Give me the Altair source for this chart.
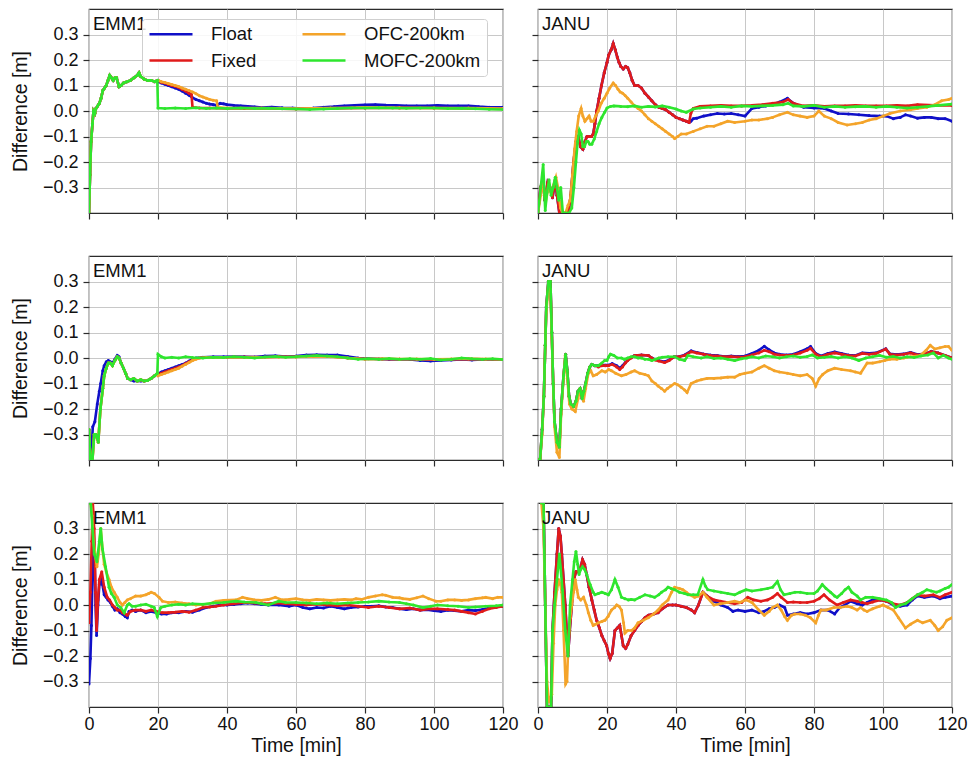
import altair as alt
import pandas as pd

FONT = "Liberation Sans"
SERIES = ["Float", "Fixed", "OFC-200km", "MOFC-200km"]
SERIES_COLORS = ["#1010c8", "#e01b1b", "#f4a42a", "#2ee62e"]
X_TICKS = [0, 20, 40, 60, 80, 100, 120]
Y_TICKS = [-0.3, -0.2, -0.1, 0.0, 0.1, 0.2, 0.3]

# ---------------- Row 1, EMM1 ----------------
E1_EARLY = [(0, -0.40), (0.3, -0.25), (0.6, -0.12), (1.0, -0.05), (1.3, 0.0), (1.7, -0.01), (2.0, 0.01),
            (2.5, 0.02), (3.0, 0.03), (3.5, 0.05), (4.0, 0.08), (4.5, 0.09), (5.0, 0.10), (5.5, 0.12),
            (6.0, 0.14), (6.5, 0.13), (7.0, 0.12), (7.5, 0.13), (8.0, 0.13), (8.7, 0.095), (9.3, 0.10),
            (10, 0.11), (11, 0.115), (12, 0.12), (13, 0.13), (14, 0.14), (14.5, 0.15), (15, 0.135),
            (16, 0.125), (17, 0.12), (18, 0.12), (19, 0.115), (19.8, 0.12)]
E1_FLOAT_TAIL = [(20, 0.115), (21, 0.11), (22, 0.105), (23, 0.10), (24, 0.095), (25, 0.09), (26, 0.085),
                 (27, 0.078), (28, 0.07), (29, 0.062), (30, 0.052), (31, 0.045), (32, 0.04), (33, 0.035),
                 (34, 0.03), (35, 0.027), (36, 0.025), (37, 0.022), (38, 0.03), (39, 0.028), (40, 0.025),
                 (42, 0.022), (44, 0.02), (46, 0.018), (48, 0.016), (50, 0.014), (53, 0.015), (56, 0.013),
                 (59, 0.012), (62, 0.01), (65, 0.012), (68, 0.015), (71, 0.017), (74, 0.02), (77, 0.022),
                 (80, 0.024), (83, 0.025), (86, 0.023), (89, 0.022), (92, 0.02), (95, 0.02), (98, 0.02),
                 (101, 0.022), (104, 0.02), (107, 0.02), (110, 0.02), (113, 0.017), (116, 0.015), (120, 0.015)]
E1_FIXED_TAIL = [(20, 0.12), (21, 0.113), (22, 0.11), (23, 0.105), (24, 0.10), (25, 0.097), (26, 0.092),
                 (27, 0.085), (28, 0.078), (29, 0.07), (29.7, 0.065), (30, 0.015), (32, 0.012), (35, 0.012),
                 (40, 0.01), (45, 0.01), (50, 0.01), (60, 0.008), (70, 0.01), (80, 0.012), (90, 0.012),
                 (100, 0.012), (110, 0.01), (120, 0.008)]
E1_OFC_TAIL = [(20, 0.12), (21, 0.115), (22, 0.112), (23, 0.108), (24, 0.104), (25, 0.10), (26, 0.096),
               (27, 0.09), (28, 0.085), (29, 0.08), (30, 0.075), (31, 0.068), (32, 0.06), (33, 0.055),
               (34, 0.05), (35, 0.045), (36, 0.042), (37, 0.04), (37.3, 0.015), (40, 0.012), (50, 0.012),
               (60, 0.01), (70, 0.012), (80, 0.014), (90, 0.013), (100, 0.012), (110, 0.012), (120, 0.01)]
E1_MOFC_TAIL = [(20, 0.012), (22, 0.01), (25, 0.012), (28, 0.01), (31, 0.013), (34, 0.01), (37, 0.012),
                (40, 0.01), (44, 0.012), (48, 0.01), (52, 0.011), (56, 0.009), (60, 0.008), (64, 0.006),
                (68, 0.008), (72, 0.01), (76, 0.012), (80, 0.012), (84, 0.013), (88, 0.012), (92, 0.011),
                (96, 0.012), (100, 0.012), (104, 0.01), (108, 0.011), (112, 0.009), (116, 0.007), (120, 0.006)]

# ---------------- Row 1, JANU ----------------
J1_FIXED_HEAD = [(0, -0.40), (0.7, -0.30), (1.4, -0.27), (2.0, -0.35), (2.8, -0.28), (3.5, -0.30), (4.2, -0.34),
                 (5.0, -0.27), (5.5, -0.33), (6.2, -0.40), (7.0, -0.40), (8.0, -0.40), (8.8, -0.40), (9.5, -0.33),
                 (10.3, -0.20), (11.0, -0.12), (11.7, -0.10), (12.3, -0.14), (13.0, -0.15), (13.6, -0.12),
                 (14.2, -0.10), (14.8, -0.10), (15.5, -0.10), (16.0, -0.09), (16.5, -0.05), (17.0, 0.0),
                 (17.7, 0.05), (18.4, 0.10), (19.2, 0.15), (20.0, 0.19), (20.5, 0.22), (21.2, 0.24),
                 (21.8, 0.265), (22.4, 0.24), (23.0, 0.21), (23.5, 0.19), (24.0, 0.175), (24.7, 0.165),
                 (25.4, 0.175), (26.0, 0.17), (26.6, 0.15), (27.3, 0.12), (28, 0.10), (29, 0.10), (30, 0.09),
                 (31, 0.07), (32, 0.055), (33, 0.04), (34, 0.025), (35, 0.015), (36, 0.01), (37, 0.005),
                 (38, -0.005), (39, -0.015), (40, -0.025), (41, -0.03), (42, -0.035), (43, -0.04), (43.8, -0.045)]
J1_FIXED_TAIL = [(44.3, -0.01), (45, 0.01), (47, 0.018), (50, 0.02), (53, 0.022), (56, 0.02), (59, 0.02),
                 (62, 0.022), (65, 0.025), (68, 0.03), (71, 0.035), (72.5, 0.045), (74, 0.03), (77, 0.02),
                 (80, 0.022), (83, 0.018), (86, 0.02), (89, 0.02), (92, 0.022), (95, 0.02), (98, 0.02),
                 (101, 0.02), (104, 0.022), (107, 0.02), (110, 0.025), (115, 0.022), (120, 0.022)]
J1_FLOAT_TAIL = [(44.3, -0.04), (45, -0.03), (46, -0.028), (48, -0.02), (50, -0.015), (52, -0.01), (54, -0.012),
                 (56, -0.01), (58, -0.015), (60, -0.02), (62, 0.01), (64, 0.015), (66, 0.02), (68, 0.025),
                 (70, 0.035), (72.3, 0.05), (73.5, 0.035), (75, 0.025), (77, 0.015), (80, 0.012), (83, 0.01),
                 (85, 0.0), (87, -0.01), (90, -0.012), (93, -0.015), (96, -0.018), (99, -0.02), (101, -0.02),
                 (103, -0.03), (105, -0.025), (106.5, -0.015), (108, -0.02), (110, -0.028), (112, -0.025),
                 (114, -0.025), (116, -0.03), (118, -0.03), (120, -0.04)]
J1_OFC = [(0, -0.40), (0.8, -0.33), (1.5, -0.28), (2.2, -0.36), (3.0, -0.30), (3.8, -0.32), (4.5, -0.29),
          (5.2, -0.26), (5.8, -0.30), (6.5, -0.38), (7.2, -0.40), (8.0, -0.40), (8.7, -0.37), (9.3, -0.35),
          (10.0, -0.25), (10.6, -0.15), (11.2, -0.08), (11.8, -0.02), (12.5, 0.01), (13.0, -0.02), (13.6, -0.04),
          (14.2, -0.03), (14.8, -0.02), (15.4, -0.04), (16.0, -0.04), (16.7, -0.02), (17.5, 0.0), (18.3, 0.03),
          (19.2, 0.05), (20.0, 0.07), (20.8, 0.09), (21.8, 0.11), (22.5, 0.10), (23.2, 0.085), (23.8, 0.075),
          (24.5, 0.07), (25.3, 0.06), (26, 0.05), (27, 0.035), (28, 0.02), (29, 0.01), (30, 0.0), (31, -0.015),
          (32, -0.03), (33, -0.04), (34, -0.05), (35, -0.06), (36, -0.07), (37, -0.08), (38, -0.09), (39, -0.10),
          (39.6, -0.108), (40.5, -0.10), (41.5, -0.09), (43, -0.09), (45, -0.08), (47, -0.07), (49, -0.06),
          (51, -0.06), (53, -0.05), (55, -0.04), (57, -0.045), (60, -0.04), (62, -0.035), (64, -0.035),
          (66.5, -0.03), (68, -0.025), (70, -0.015), (72.3, -0.005), (74, -0.015), (76, -0.02), (78, -0.025),
          (80, -0.02), (81.4, 0.0), (83, -0.02), (85, -0.03), (87, -0.045), (89.6, -0.055), (92, -0.05),
          (94, -0.045), (96, -0.035), (98, -0.03), (100, -0.02), (102, -0.01), (105, 0.0), (108, 0.005),
          (110, 0.01), (112.7, 0.015), (115, 0.025), (117, 0.04), (119, 0.045), (120, 0.05)]
J1_MOFC = [(0, -0.40), (0.8, -0.30), (1.5, -0.21), (2.1, -0.39), (2.6, -0.32), (3.2, -0.27), (3.8, -0.33),
           (4.4, -0.30), (5.0, -0.26), (5.5, -0.30), (6.0, -0.35), (6.6, -0.30), (7.2, -0.40), (8.0, -0.40),
           (9.0, -0.40), (9.8, -0.38), (10.4, -0.30), (11.0, -0.20), (11.5, -0.12), (12.0, -0.075), (12.5, -0.09),
           (13.0, -0.14), (13.5, -0.14), (14.0, -0.12), (14.5, -0.12), (15.0, -0.13), (15.6, -0.13), (16.3, -0.11),
           (17.0, -0.08), (17.7, -0.05), (18.5, -0.025), (19.3, -0.005), (20, 0.012), (21, 0.018), (22, 0.02),
           (24, 0.018), (26, 0.017), (28, 0.02), (30, 0.015), (32, 0.018), (34, 0.016), (36, 0.02), (38, 0.015),
           (40, 0.008), (41.5, 0.0), (43, -0.005), (45, 0.008), (47, 0.012), (50, 0.015), (53, 0.018), (56, 0.015),
           (59, 0.02), (62, 0.018), (65, 0.02), (68, 0.022), (71, 0.025), (72.5, 0.03), (74, 0.02), (77, 0.018),
           (80, 0.022), (83, 0.015), (86, 0.018), (89, 0.015), (92, 0.017), (95, 0.018), (98, 0.015), (101, 0.018),
           (104, 0.015), (107, 0.012), (110, 0.015), (113, 0.018), (116, 0.022), (120, 0.027)]

# ---------------- Row 2, EMM1 ----------------
E2_EARLY = [(0, -0.28), (0.4, -0.40), (1.0, -0.40), (1.5, -0.30), (2.0, -0.30), (2.7, -0.33), (3.3, -0.20),
            (4.0, -0.12), (4.4, -0.07), (5.0, -0.04), (5.6, -0.02), (6.2, -0.02), (6.8, -0.03), (7.5, -0.01),
            (8.2, 0.005), (8.7, 0.0), (9.3, -0.02), (10, -0.04), (10.6, -0.06), (11.2, -0.08), (12, -0.085),
            (13, -0.08), (14, -0.09), (15, -0.085), (16, -0.09), (17, -0.088), (18, -0.08), (19, -0.07),
            (19.8, -0.06)]
E2_FLOAT = [(0, -0.28), (0.4, -0.40), (0.8, -0.35), (1.1, -0.27), (1.7, -0.25), (2.4, -0.18), (3.0, -0.13),
            (3.4, -0.10), (4.0, -0.05), (4.4, -0.03), (5.0, -0.015), (5.6, -0.01), (6.2, -0.015), (6.8, -0.02),
            (7.5, -0.005), (8.2, 0.01), (8.7, 0.005), (9.3, -0.02), (10, -0.04), (10.6, -0.06), (11.2, -0.08),
            (12, -0.085), (13, -0.09), (14, -0.09), (15, -0.09), (16, -0.09), (17, -0.088), (18, -0.08),
            (19, -0.07), (20, -0.062), (21, -0.055), (22, -0.05), (23, -0.045), (24, -0.04), (25, -0.035),
            (26, -0.03), (27, -0.025), (28, -0.02), (29, -0.012), (30, -0.005), (31, 0.0), (33, 0.003),
            (36, 0.005), (39, 0.005), (42, 0.006), (45, 0.005), (48, 0.004), (51, 0.008), (54, 0.009),
            (57, 0.006), (60, 0.008), (63, 0.012), (66, 0.013), (69, 0.012), (72, 0.012), (75, 0.006),
            (78, 0.0), (81, -0.002), (84, -0.004), (87, -0.006), (90, -0.005), (93, -0.006), (96, -0.01),
            (99, -0.012), (102, -0.01), (105, -0.008), (108, -0.006), (111, -0.008), (114, -0.006),
            (117, -0.005), (120, -0.006)]
E2_FIXED_TAIL = [(20, -0.065), (21, -0.06), (22, -0.055), (23, -0.05), (24, -0.045), (25, -0.04), (26, -0.035),
                 (27, -0.03), (28, -0.022), (29, -0.015), (30, -0.008), (31, -0.002), (33, 0.002), (36, 0.003),
                 (40, 0.003), (45, 0.004), (50, 0.003), (55, 0.005), (60, 0.005), (65, 0.008), (70, 0.006),
                 (75, 0.0), (80, -0.004), (85, -0.004), (90, -0.005), (95, -0.005), (100, -0.006),
                 (105, -0.005), (110, -0.004), (115, -0.005), (120, -0.006)]
E2_OFC_TAIL = [(20, -0.07), (21, -0.065), (22, -0.06), (23, -0.055), (24, -0.05), (25, -0.045), (26, -0.04),
               (27, -0.032), (28, -0.025), (29, -0.018), (30, -0.01), (31, -0.005), (32, 0.0), (34, 0.002),
               (38, 0.002), (42, 0.004), (46, 0.002), (50, 0.003), (55, 0.004), (60, 0.004), (65, 0.007),
               (70, 0.005), (75, 0.0), (80, -0.004), (85, -0.003), (90, -0.004), (95, -0.004), (100, -0.005),
               (105, -0.004), (110, -0.003), (115, -0.004), (120, -0.005)]
E2_MOFC_TAIL = [(20, 0.015), (21, 0.005), (22, 0.0), (24, 0.003), (26, 0.0), (28, 0.005), (30, 0.002), (33, 0.0),
                (36, 0.003), (39, 0.002), (42, 0.005), (45, 0.003), (48, 0.0), (51, 0.004), (54, 0.006),
                (57, 0.003), (60, 0.005), (63, 0.008), (66, 0.01), (69, 0.008), (72, 0.005), (75, 0.0),
                (78, -0.005), (81, -0.003), (84, -0.005), (87, -0.002), (90, -0.005), (93, -0.003), (96, -0.005),
                (99, -0.002), (102, -0.008), (105, -0.005), (108, 0.0), (111, -0.003), (114, -0.005),
                (117, -0.003), (120, -0.006)]

# ---------------- Row 2, JANU ----------------
J2_EARLY = [(0, -0.40), (0.6, -0.40), (1.2, -0.28), (1.7, -0.15), (2.1, 0.05), (2.4, 0.20), (3.0, 0.30),
            (3.6, 0.30), (4.0, 0.10), (4.4, -0.10), (4.8, -0.25), (5.5, -0.33), (6.2, -0.35), (6.7, -0.20),
            (7.4, -0.07), (8.0, 0.015), (8.5, -0.05), (9.0, -0.15), (9.5, -0.18), (10.3, -0.19), (11.0, -0.17),
            (11.6, -0.13), (12.2, -0.12), (12.8, -0.16), (13.3, -0.13), (13.8, -0.10), (14.4, -0.06),
            (15.0, -0.035)]
J2_MOFC_TAIL = [(15.6, -0.025), (16.5, -0.03), (17.5, -0.03), (18.5, -0.02), (19.3, -0.01), (20, -0.01),
                (20.5, 0.005), (21, 0.015), (22, 0.01), (23, 0.0), (24.2, 0.0), (25, -0.005), (26, 0.0), (27, 0.005),
                (28, 0.005), (29, 0.0), (30, 0.0), (31, -0.005), (32, -0.005), (33, -0.01), (34, -0.005), (35, 0.0),
                (36, 0.003), (37.7, 0.005), (39.6, 0.005), (41, -0.005), (42.5, -0.01), (43.5, 0.01), (45, 0.005),
                (47.3, 0.0), (49, 0.005), (51, -0.002), (53, 0.0), (55, -0.005), (57, -0.01), (59, -0.003),
                (60.5, 0.0), (62, 0.005), (64, 0.0), (66, 0.008), (68, 0.005), (70, 0.0), (72, 0.005), (74, 0.008),
                (76, 0.003), (78, 0.006), (79.5, 0.012), (81, 0.0), (83, 0.003), (85, 0.006), (87, 0.0), (89, 0.005),
                (91, 0.0), (93, -0.01), (95, 0.0), (97, 0.005), (99, 0.01), (101, 0.003), (103, 0.006), (105, 0.0),
                (107, 0.005), (109, 0.002), (111, 0.008), (113, 0.012), (114.6, 0.02), (116, 0.0), (117.5, 0.01),
                (119, 0.0), (120, -0.005)]
J2_FIXED_TAIL = [(15.6, -0.025), (16.5, -0.03), (17.5, -0.035), (18.5, -0.03), (19.5, -0.03), (20.4, -0.03),
                 (21.5, -0.025), (22.8, -0.035), (23.7, -0.045), (24.5, -0.035), (25.3, -0.02), (26, -0.01),
                 (27, 0.0), (28, 0.01), (30, 0.012), (32, 0.01), (33, 0.0), (34, -0.008), (35, -0.012),
                 (36.7, -0.018), (38, -0.01), (39.5, 0.005), (41, 0.005), (42.5, 0.01), (44.4, 0.025), (46, 0.02),
                 (48, 0.015), (50, 0.01), (52, 0.008), (54, 0.005), (56, 0.006), (58, 0.004), (60, 0.005),
                 (62, 0.012), (64, 0.02), (65.6, 0.03), (67, 0.025), (68.5, 0.015), (70, 0.012), (72, 0.01),
                 (74, 0.012), (76, 0.02), (78, 0.03), (79, 0.038), (80.5, 0.015), (82, 0.005), (84, 0.015),
                 (86, 0.02), (88, 0.015), (90, 0.01), (92, 0.008), (94, 0.018), (96, 0.015), (98, 0.018),
                 (100.8, 0.035), (102, 0.015), (104, 0.012), (106, 0.015), (108, 0.02), (110, 0.012), (112, 0.015),
                 (114, 0.025), (116, 0.02), (118, 0.01), (120, 0.0)]
J2_FLOAT_TAIL = [(15.6, -0.025), (16.5, -0.03), (17.5, -0.03), (18.5, -0.028), (19.5, -0.028), (20.4, -0.028),
                 (21.5, -0.022), (22.8, -0.03), (23.7, -0.04), (24.5, -0.03), (25.3, -0.018), (26, -0.008),
                 (27, 0.002), (28, 0.01), (30, 0.012), (32, 0.01), (33, 0.0), (34, -0.006), (35, -0.01),
                 (36.7, -0.015), (38, -0.008), (39.5, 0.005), (41, 0.006), (42.5, 0.012), (44.4, 0.028), (46, 0.022),
                 (48, 0.016), (50, 0.012), (52, 0.01), (54, 0.006), (56, 0.008), (58, 0.006), (60, 0.008),
                 (62, 0.018), (64, 0.03), (65.6, 0.046), (67, 0.032), (68.5, 0.02), (70, 0.015), (72, 0.012),
                 (74, 0.015), (76, 0.025), (78, 0.036), (79, 0.045), (80.5, 0.018), (82, 0.008), (84, 0.018),
                 (86, 0.024), (88, 0.018), (90, 0.012), (92, 0.01), (94, 0.02), (96, 0.018), (98, 0.02),
                 (100.8, 0.036), (102, 0.016), (104, 0.014), (106, 0.016), (108, 0.022), (110, 0.014), (112, 0.016),
                 (114, 0.026), (116, 0.02), (118, 0.01), (120, 0.0)]
J2_OFC = [(0, -0.40), (0.6, -0.40), (1.2, -0.30), (1.7, -0.15), (2.1, 0.05), (2.4, 0.18), (3.0, 0.28),
          (3.6, 0.27), (4.0, 0.08), (4.4, -0.10), (4.8, -0.27), (5.5, -0.37), (6.2, -0.39), (6.7, -0.22),
          (7.4, -0.08), (7.9, 0.01), (8.5, -0.08), (9.1, -0.18), (9.8, -0.20), (10.8, -0.21), (11.6, -0.16),
          (12.2, -0.12), (12.8, -0.15), (13.2, -0.17), (13.8, -0.12), (14.6, -0.06), (15.3, -0.05), (16, -0.07),
          (17, -0.065), (18.5, -0.05), (19.5, -0.055), (20.5, -0.045), (21.3, -0.05), (22.5, -0.06), (24.2, -0.07),
          (25.5, -0.065), (27, -0.055), (28, -0.05), (29.5, -0.06), (31, -0.065), (32, -0.07), (33, -0.09),
          (34, -0.10), (34.8, -0.11), (35.8, -0.12), (36.7, -0.13), (37.5, -0.12), (38.5, -0.11), (39.6, -0.10),
          (40.5, -0.105), (41.5, -0.115), (42.5, -0.125), (43.2, -0.135), (44.4, -0.10), (46, -0.09),
          (47.3, -0.085), (49, -0.08), (51, -0.08), (53, -0.078), (55, -0.075), (57, -0.075), (58.5, -0.065),
          (60, -0.06), (62, -0.055), (64, -0.04), (65.6, -0.03), (67, -0.04), (68.5, -0.05), (70, -0.055),
          (72.3, -0.06), (74, -0.065), (76, -0.07), (78, -0.065), (79.5, -0.08), (80.5, -0.11), (81.5, -0.08),
          (82.5, -0.065), (84, -0.05), (86, -0.04), (88, -0.045), (90.6, -0.05), (92, -0.055), (93.5, -0.06),
          (95.4, -0.02), (97, -0.02), (99, -0.015), (100.5, -0.01), (102, -0.005), (104, -0.005), (106, 0.0),
          (108, 0.005), (110.8, 0.01), (112.5, 0.03), (113.7, 0.05), (115, 0.035), (116.5, 0.04), (118, 0.045),
          (119, 0.045), (120, 0.03)]

# ---------------- Row 3, EMM1 ----------------
E3_FLOAT = [(0, -0.31), (0.4, -0.21), (0.7, -0.08), (1.0, 0.10), (1.3, 0.30), (1.6, 0.20), (1.9, 0.0),
            (2.2, -0.12), (2.6, 0.0), (3.0, 0.08), (3.5, 0.10), (3.9, 0.08), (4.4, 0.04), (5.0, 0.03),
            (5.5, 0.02), (6.2, 0.01), (6.8, -0.005), (7.5, -0.02), (8.2, -0.015), (9.0, -0.03), (9.7, -0.035),
            (10.5, -0.045), (11.1, -0.05), (11.6, -0.025), (12.5, -0.02), (13.5, -0.025), (15, -0.02),
            (16.5, -0.03), (18, -0.025), (19.5, -0.03), (21, -0.035), (22.5, -0.035), (24, -0.03), (26, -0.03),
            (28, -0.025), (30, -0.028), (32, -0.02), (34, -0.01), (36, -0.005), (38, 0.0), (40, 0.0),
            (42, 0.002), (44, 0.005), (46, 0.008), (48, 0.005), (50, 0.002), (52, 0.0), (55, 0.0), (58, -0.005),
            (60, 0.0), (62, -0.01), (64, -0.015), (66, -0.01), (68, -0.012), (70, -0.005), (72, -0.01),
            (74, -0.015), (76, -0.01), (78, -0.008), (80, -0.005), (82, -0.005), (84, -0.003), (86, -0.008),
            (88, -0.01), (90, -0.015), (92, -0.018), (94, -0.015), (96, -0.02), (98, -0.018), (100, -0.022),
            (102, -0.025), (104, -0.02), (106, -0.022), (108, -0.025), (110, -0.02), (112, -0.022),
            (114, -0.018), (116, -0.012), (118, -0.008), (120, -0.005)]
E3_FIXED = [(0, -0.07), (0.4, 0.05), (0.8, 0.25), (1.1, 0.40), (1.5, 0.30), (1.9, 0.05), (2.2, -0.10),
            (2.6, 0.02), (3.0, 0.10), (3.7, 0.13), (4.4, 0.07), (5.3, 0.03), (6.0, 0.02), (6.8, 0.0),
            (7.5, -0.01), (8.2, -0.02), (9.0, -0.02), (9.7, -0.03), (10.5, -0.035), (11.1, -0.04), (12, -0.025),
            (13.5, -0.02), (15, -0.02), (16.5, -0.025), (18, -0.02), (19.5, -0.025), (21.3, -0.03), (23, -0.03),
            (25, -0.028), (27, -0.025), (29, -0.028), (31, -0.02), (33, -0.01), (35, -0.008), (36.8, -0.005),
            (39, 0.0), (42, 0.005), (45, 0.01), (48, 0.008), (51, 0.005), (54, 0.008), (57, 0.005), (60, 0.002),
            (63, 0.0), (66, 0.003), (69, 0.0), (72, -0.003), (75, 0.0), (78, -0.005), (81, -0.01), (84, -0.005),
            (87, -0.01), (90, -0.015), (93, -0.012), (96, -0.02), (99, -0.015), (101, -0.015), (104, -0.018),
            (106, -0.02), (108, -0.025), (110, -0.03), (112, -0.035), (114, -0.025), (116, -0.015),
            (118, -0.01), (120, -0.005)]
E3_OFC = [(0, 0.40), (0.5, 0.40), (0.9, 0.35), (1.3, 0.25), (1.8, 0.20), (2.3, 0.15), (2.8, 0.20), (3.4, 0.30),
          (3.9, 0.22), (4.4, 0.16), (5.0, 0.13), (5.8, 0.10), (6.5, 0.07), (7.3, 0.05), (8.2, 0.03), (9.0, 0.01),
          (9.7, 0.0), (10.4, 0.01), (11.1, 0.02), (12, 0.025), (13.5, 0.035), (15, 0.035), (16.5, 0.04),
          (17.3, 0.045), (18, 0.05), (19, 0.045), (20.3, 0.03), (21.3, 0.015), (23, 0.01), (25, 0.012),
          (27, 0.008), (29, 0.005), (31, 0.0), (33, 0.002), (35, 0.005), (36.8, 0.015), (39, 0.018),
          (42.6, 0.02), (44.5, 0.03), (46, 0.025), (48, 0.02), (50, 0.018), (52, 0.022), (54, 0.03), (56, 0.02),
          (58, 0.022), (60, 0.025), (62, 0.02), (64, 0.018), (66, 0.022), (68, 0.02), (70, 0.018), (72, 0.02),
          (74, 0.022), (76, 0.02), (77.4, 0.025), (79, 0.022), (81, 0.03), (83, 0.035), (85, 0.04),
          (86, 0.038), (88, 0.03), (90, 0.028), (91, 0.025), (93, 0.022), (95, 0.028), (96.8, 0.035),
          (98.5, 0.025), (100.6, 0.015), (102, 0.015), (104, 0.02), (106, 0.02), (108, 0.018), (110, 0.02),
          (112, 0.025), (114, 0.028), (115, 0.03), (117, 0.025), (118.5, 0.03), (120, 0.03)]
E3_MOFC = [(0, 0.40), (0.5, 0.40), (1.0, 0.30), (1.5, 0.20), (2.3, 0.17), (3.0, 0.25), (3.4, 0.30), (3.9, 0.22),
           (4.8, 0.15), (5.8, 0.07), (6.5, 0.045), (7.3, 0.03), (8.2, 0.0), (9.2, -0.01), (10.2, -0.03),
           (11.1, 0.0), (11.6, 0.005), (12.5, -0.005), (13.5, -0.005), (15, 0.0), (16.5, 0.003), (18, -0.005),
           (18.9, -0.01), (19.8, -0.045), (20.8, -0.01), (22, -0.005), (24, 0.0), (26, 0.003), (28, 0.0),
           (30, 0.005), (33, 0.003), (36, 0.008), (39, 0.01), (42.6, 0.015), (45, 0.012), (48.4, 0.01),
           (50, 0.005), (52, 0.0), (55, 0.015), (57, 0.01), (60, 0.01), (63, 0.008), (66, 0.005), (69, 0.008),
           (72, 0.005), (75, 0.008), (78, 0.01), (81, 0.012), (84, 0.015), (87, 0.012), (90, 0.01), (92, 0.005),
           (94, 0.0), (96.8, -0.01), (99, -0.005), (101, 0.0), (104, -0.003), (107, -0.005), (110, -0.01),
           (112, -0.008), (115, -0.005), (118, -0.003), (120, 0.0)]

# ---------------- Row 3, JANU ----------------
J3_EARLY = [(1.0, 0.40), (1.6, 0.40), (2.1, 0.0), (2.6, -0.40), (3.2, -0.40), (3.8, -0.40), (4.2, -0.10)]
J3_MOFC_TAIL = [(4.8, 0.0), (5.5, 0.10), (6.2, 0.20), (7.1, 0.06), (7.9, -0.10), (8.7, -0.20), (9.3, 0.0),
                (10, 0.10), (10.5, 0.17), (11, 0.21), (11.5, 0.16), (11.9, 0.12), (12.4, 0.14), (12.9, 0.15),
                (13.5, 0.14), (14.1, 0.12), (15.1, 0.08), (16, 0.05), (16.5, 0.04), (17.5, 0.045), (18.5, 0.05),
                (19.5, 0.045), (20.4, 0.04), (21.3, 0.06), (22.3, 0.10), (23.2, 0.07), (24.2, 0.03), (25.2, 0.025),
                (26.2, 0.02), (27, 0.022), (28, 0.02), (29.5, 0.03), (31, 0.04), (32.5, 0.035), (33.8, 0.03),
                (35, 0.04), (35.8, 0.05), (37, 0.06), (37.7, 0.07), (38.6, 0.065), (39.6, 0.06), (41, 0.05),
                (42.5, 0.045), (43.5, 0.04), (45, 0.04), (46.3, 0.04), (47.8, 0.10), (48.5, 0.075), (49.2, 0.06),
                (51, 0.055), (53, 0.05), (55, 0.045), (57, 0.04), (58.5, 0.05), (60.3, 0.06), (62, 0.055),
                (64.6, 0.06), (66.5, 0.065), (68, 0.07), (69.4, 0.092), (70.3, 0.06), (71.3, 0.04), (73, 0.045),
                (74.5, 0.05), (76, 0.05), (78, 0.045), (80, 0.045), (81, 0.055), (82.4, 0.08), (83.5, 0.065),
                (84.8, 0.05), (86, 0.035), (86.7, 0.03), (88, 0.045), (89, 0.06), (90, 0.07), (91, 0.05),
                (92.5, 0.035), (93.5, 0.02), (95, 0.03), (97, 0.03), (99, 0.025), (101, 0.02), (102.5, 0.01),
                (103.6, -0.01), (105, 0.0), (106.5, 0.005), (108, 0.02), (110, 0.04), (111.5, 0.05), (112.7, 0.06),
                (114, 0.055), (115.5, 0.05), (116.5, 0.055), (118, 0.065), (119, 0.07), (120, 0.08)]
J3_FIXED_MID = [(4.8, 0.05), (5.5, 0.20), (6.0, 0.30), (6.5, 0.27), (6.9, 0.20), (7.4, 0.10), (7.9, 0.0),
                (8.3, -0.10), (8.7, -0.20), (9.2, -0.10), (9.8, 0.0), (10.4, 0.10), (11, 0.13), (11.6, 0.13),
                (12.2, 0.14), (12.9, 0.178), (13.5, 0.16), (14.1, 0.12), (14.8, 0.07), (15.6, 0.02), (16.3, -0.02),
                (17, -0.06), (17.8, -0.09), (18.5, -0.12), (19.2, -0.14), (19.9, -0.16), (20.4, -0.19),
                (20.9, -0.21), (21.5, -0.19), (22.3, -0.10), (23, -0.09), (23.7, -0.08), (24.2, -0.12),
                (24.7, -0.16), (25.4, -0.17), (26, -0.155), (27, -0.12), (28, -0.10), (29, -0.08), (30, -0.065),
                (31, -0.05), (32, -0.04), (33.5, -0.035), (34.8, -0.03), (36, -0.015), (37.7, 0.0), (39, 0.0),
                (40, 0.0), (41.5, -0.005), (43, -0.01), (44.5, -0.02), (45.4, -0.03), (46.5, 0.0), (47.8, 0.05),
                (49, 0.035)]
J3_FIXED_TAIL = [(51, 0.02), (53, 0.015), (55, 0.01), (57, 0.005), (59, 0.01), (60.8, 0.03), (62.5, 0.02),
                 (64.6, 0.015), (66.5, 0.02), (68, 0.03), (69.4, 0.045), (70.5, 0.03), (72.3, 0.01), (74, 0.012),
                 (76, 0.01), (78, 0.01), (80, 0.015), (81.5, 0.025), (82.9, 0.04), (84.5, 0.02), (86.7, 0.0),
                 (88.5, 0.01), (90.6, 0.02), (92.5, 0.015), (94, 0.01), (95.4, 0.005), (97, 0.012), (99.2, 0.02),
                 (101, 0.015), (103, 0.005), (105, 0.0), (107, 0.01), (108.5, 0.025), (110, 0.04), (112, 0.035),
                 (114.6, 0.04), (116.5, 0.03), (118, 0.04), (120, 0.05)]
J3_FLOAT_TAIL = [(51, 0.015), (53, 0.0), (55, -0.01), (56.5, -0.025), (58, -0.02), (60, -0.025), (62, -0.02),
                 (64, -0.03), (65.5, -0.025), (67, -0.015), (68.5, -0.01), (70, 0.0), (71.5, -0.01), (72.3, -0.04),
                 (74, -0.035), (76, -0.03), (78, -0.035), (80, -0.03), (82, -0.02), (84, -0.02), (86, -0.035),
                 (87.5, -0.01), (89, 0.0), (90.6, 0.015), (92.5, 0.005), (94, 0.0), (95.4, 0.01), (97, 0.02),
                 (99.2, 0.02), (101, 0.015), (103, 0.0), (105, -0.005), (107, 0.0), (108.5, 0.02), (110, 0.035),
                 (112, 0.03), (114.6, 0.035), (116.5, 0.025), (118, 0.03), (120, 0.035)]
J3_OFC = [(1.0, 0.40), (1.6, 0.30), (2.1, 0.0), (2.6, -0.30), (3.2, -0.38), (4.0, -0.35), (4.5, -0.15), (5.0, 0.0),
          (5.5, 0.06), (6.0, 0.10), (6.5, 0.08), (6.9, 0.05), (7.4, -0.10), (8.0, -0.31), (8.4, -0.30), (8.8, -0.15),
          (9.3, -0.05), (9.8, 0.0), (10.3, 0.05), (10.8, 0.10), (11.3, 0.06), (11.7, 0.03), (12.4, 0.02),
          (13.2, 0.03), (14, 0.0), (14.6, -0.03), (15.3, -0.06), (16, -0.08), (16.7, -0.075), (17.5, -0.07),
          (18.5, -0.065), (19.4, -0.06), (20.3, -0.045), (21.3, -0.02), (22.2, -0.01), (22.8, 0.0), (23.5, -0.005),
          (24.2, -0.02), (24.8, -0.07), (25.2, -0.11), (26, -0.10), (27.1, -0.10), (28, -0.09), (29, -0.07),
          (30.5, -0.06), (32, -0.05), (33.5, -0.035), (34.8, -0.02), (36, 0.0), (37.7, 0.02), (38.7, 0.05),
          (39.6, 0.07), (41, 0.065), (42, 0.06), (43, 0.05), (44, 0.04), (45.4, 0.03), (46.5, 0.035), (47.8, 0.05),
          (49, 0.03), (51, 0.0), (53, 0.005), (55, 0.01), (57, 0.015), (58.5, 0.01), (60.3, 0.02), (62, 0.01),
          (64, -0.02), (65.6, -0.04), (67, -0.025), (68, -0.01), (69.4, 0.0), (70.5, -0.02), (71.5, -0.045),
          (72.3, -0.06), (73.5, -0.04), (74.5, -0.035), (76, -0.035), (77.5, -0.04), (79, -0.05), (80.5, -0.07),
          (81.3, -0.04), (82, -0.02), (83.5, -0.02), (85.8, -0.01), (87.5, -0.01), (89.6, -0.005), (91, -0.01),
          (92.5, -0.02), (93.5, -0.01), (94.5, -0.02), (95.4, -0.025), (97, -0.015), (99, -0.005), (100, 0.0),
          (101.5, -0.01), (103, -0.02), (104.5, -0.05), (106.5, -0.09), (108, -0.075), (110, -0.06),
          (111.5, -0.07), (113.7, -0.06), (115, -0.08), (116, -0.10), (117.3, -0.085), (118.5, -0.06),
          (120, -0.05)]

# panels: (station, [Float, Fixed, OFC, MOFC])
PANELS = [
    ("EMM1", [E1_EARLY + E1_FLOAT_TAIL, E1_EARLY + E1_FIXED_TAIL, E1_EARLY + E1_OFC_TAIL, E1_EARLY + E1_MOFC_TAIL]),
    ("JANU", [J1_FIXED_HEAD + J1_FLOAT_TAIL, J1_FIXED_HEAD + J1_FIXED_TAIL, J1_OFC, J1_MOFC]),
    ("EMM1", [E2_FLOAT, E2_EARLY + E2_FIXED_TAIL, E2_EARLY + E2_OFC_TAIL, E2_EARLY + E2_MOFC_TAIL]),
    ("JANU", [J2_EARLY + J2_FLOAT_TAIL, J2_EARLY + J2_FIXED_TAIL, J2_OFC, J2_EARLY + J2_MOFC_TAIL]),
    ("EMM1", [E3_FLOAT, E3_FIXED, E3_OFC, E3_MOFC]),
    ("JANU", [J3_EARLY + J3_FIXED_MID + J3_FLOAT_TAIL, J3_EARLY + J3_FIXED_MID + J3_FIXED_TAIL, J3_OFC,
              J3_EARLY + J3_MOFC_TAIL]),
]

color_scale = alt.Scale(domain=SERIES, range=SERIES_COLORS)

legend = alt.Legend(
    orient="none", legendX=53, legendY=10, columns=2, title=None,
    symbolType="stroke", symbolSize=1849, symbolStrokeWidth=2.5,
    labelFont=FONT, labelFontSize=18.5, labelColor="#111111", labelOffset=17, labelLimit=300,
    columnPadding=44, rowPadding=7.5, clipHeight=18, padding=6,
    fillColor="rgba(255,255,255,0.85)", strokeColor="#cfcfcf", cornerRadius=3,
)


def panel(idx, station, lists):
    row, col = divmod(idx, 2)
    bottom = row == 2
    left = col == 0
    x_axis = alt.Axis(values=X_TICKS, labels=bottom, title="Time [min]" if bottom else None, labelFlush=False)
    y_axis = alt.Axis(values=Y_TICKS, labels=left, format=".1f", title="Difference [m]" if left else None)
    layers = []
    for name, pts in zip(SERIES, lists):
        df = pd.DataFrame(pts, columns=["t", "v"])
        df["s"] = name
        layers.append(
            alt.Chart(df).mark_line(
                clip=True, strokeWidth=2.6,
                point=alt.OverlayMarkDef(filled=True, size=9, clip=True),
            ).encode(
                x=alt.X("t:Q", scale=alt.Scale(domain=[0, 120], nice=False), axis=x_axis),
                y=alt.Y("v:Q", scale=alt.Scale(domain=[-0.4, 0.4], nice=False), axis=y_axis),
                color=alt.Color("s:N", scale=color_scale, legend=legend if idx == 0 else None),
            )
        )
    label = alt.Chart(pd.DataFrame({"name": [station]})).mark_text(
        align="left", baseline="alphabetic", font=FONT, fontSize=18.5, color="#111111"
    ).encode(x=alt.value(4), y=alt.value(21), text="name:N")
    return alt.layer(*layers, label).properties(width=414, height=204)


panels = [panel(i, st, ls) for i, (st, ls) in enumerate(PANELS)]

chart = alt.concat(
    *panels, columns=2, spacing={"row": 43, "column": 35}, bounds="flush"
).resolve_legend(
    color="independent"
).properties(
    padding={"left": 9, "top": 8, "right": 5, "bottom": 1}
).configure_view(
    stroke="#2b2b2b", strokeWidth=1.2
).configure_axis(
    domain=False, grid=True, gridColor="#c8c8c8", gridWidth=1,
    tickColor="#2b2b2b", tickSize=6, tickWidth=1.2,
    labelFont=FONT, labelFontSize=18, labelColor="#111111",
    titleFont=FONT, titleFontSize=19.5, titleFontWeight="normal", titleColor="#111111",
).configure_axisX(
    labelPadding=2, titlePadding=3
).configure_axisY(
    labelPadding=5, titlePadding=12
)

chart.save("out.html", embed_options={"renderer": "svg", "actions": False})
